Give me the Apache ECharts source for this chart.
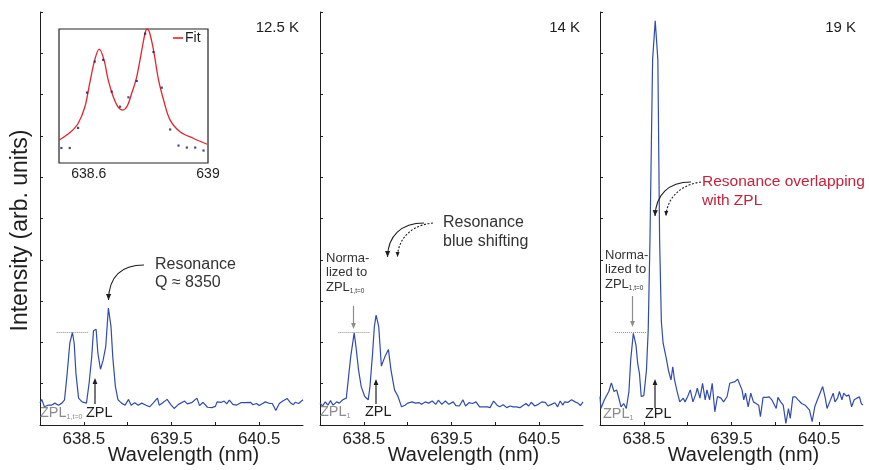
<!DOCTYPE html>
<html>
<head>
<meta charset="utf-8">
<script src="https://cdn.jsdelivr.net/npm/echarts@6/dist/echarts.min.js"></script>
<style>
  html, body { margin: 0; padding: 0; background: #fff; }
  #chart { width: 869px; height: 470px; }
</style>
</head>
<body>
<div id="chart"></div>
<script>
(function () {
    'use strict';

    // 12.5 K spectrum
    var wl1 = [638.00, 638.02, 638.05, 638.09, 638.13, 638.17, 638.21, 638.25, 638.28, 638.31, 638.34, 638.37, 638.39, 638.41, 638.44, 638.48,
        638.53, 638.56, 638.59, 638.61, 638.64, 638.66, 638.69, 638.72, 638.75, 638.78, 638.81, 638.83, 638.86, 638.89, 638.93, 638.97,
        639.01, 639.04, 639.08, 639.12, 639.16, 639.21, 639.25, 639.29, 639.34, 639.36, 639.40, 639.45, 639.49, 639.53, 639.58, 639.65,
        639.68, 639.73, 639.79, 639.82, 639.86, 639.91, 639.96, 640.00, 640.02, 640.07, 640.10, 640.13, 640.16, 640.20, 640.24, 640.29,
        640.34, 640.40, 640.43, 640.47, 640.50, 640.53, 640.57, 640.62, 640.65, 640.69, 640.73, 640.77, 640.82, 640.86, 640.89, 640.91,
        640.95, 641.00];
    var int1 = [0.53, 0.62, 0.44, 0.48, 0.48, 0.53, 0.48, 0.53, 0.61, 1.25, 1.98, 2.24, 1.98, 1.25, 0.65, 0.56,
        0.53, 1.01, 1.65, 2.28, 2.32, 1.74, 1.35, 1.57, 1.90, 2.83, 2.38, 1.65, 0.93, 0.61, 0.53, 0.48,
        0.62, 0.48, 0.54, 0.48, 0.53, 0.48, 0.44, 0.53, 0.65, 0.48, 0.54, 0.62, 0.50, 0.40, 0.50, 0.58,
        0.51, 0.54, 0.65, 0.47, 0.55, 0.43, 0.42, 0.45, 0.56, 0.55, 0.58, 0.51, 0.60, 0.50, 0.48, 0.54,
        0.54, 0.55, 0.49, 0.52, 0.47, 0.51, 0.56, 0.52, 0.52, 0.35, 0.52, 0.58, 0.64, 0.53, 0.49, 0.55,
        0.52, 0.61];

    // 14 K spectrum
    var wl2 = [638.00, 638.03, 638.06, 638.09, 638.12, 638.15, 638.19, 638.22, 638.26, 638.30, 638.35, 638.39, 638.41, 638.44, 638.47, 638.51,
        638.55, 638.57, 638.60, 638.62, 638.64, 638.67, 638.70, 638.74, 638.78, 638.81, 638.85, 638.89, 638.93, 638.97, 639.00, 639.05,
        639.09, 639.13, 639.16, 639.20, 639.24, 639.28, 639.32, 639.35, 639.39, 639.43, 639.47, 639.52, 639.55, 639.59, 639.63, 639.66,
        639.70, 639.74, 639.78, 639.82, 639.86, 639.91, 639.94, 639.98, 640.02, 640.05, 640.09, 640.13, 640.17, 640.20, 640.24, 640.28,
        640.32, 640.35, 640.38, 640.41, 640.45, 640.49, 640.53, 640.57, 640.60, 640.64, 640.68, 640.71, 640.74, 640.77, 640.79, 640.83,
        640.87, 640.91, 640.95, 640.97, 641.00];
    var int2 = [0.53, 0.46, 0.56, 0.48, 0.59, 0.48, 0.56, 0.53, 0.61, 0.65, 1.65, 2.23, 1.90, 1.33, 0.93, 0.69,
        0.61, 0.93, 1.74, 2.38, 2.66, 2.38, 1.43, 1.65, 1.83, 1.33, 0.85, 0.69, 0.44, 0.48, 0.53, 0.56,
        0.53, 0.54, 0.50, 0.56, 0.53, 0.58, 0.50, 0.60, 0.50, 0.58, 0.50, 0.56, 0.47, 0.46, 0.61, 0.46,
        0.54, 0.52, 0.56, 0.44, 0.44, 0.44, 0.42, 0.58, 0.48, 0.44, 0.49, 0.42, 0.46, 0.44, 0.44, 0.42,
        0.48, 0.52, 0.46, 0.55, 0.46, 0.50, 0.56, 0.55, 0.46, 0.50, 0.54, 0.44, 0.58, 0.48, 0.56, 0.55,
        0.61, 0.56, 0.52, 0.47, 0.56];

    // 19 K spectrum
    var wl3 = [638.00, 638.01, 638.05, 638.07, 638.10, 638.13, 638.16, 638.19, 638.21, 638.24, 638.27, 638.30, 638.33, 638.35, 638.38, 638.41,
        638.43, 638.45, 638.47, 638.50, 638.53, 638.55, 638.57, 638.60, 638.63, 638.66, 638.68, 638.70, 638.72, 638.76, 638.78, 638.81,
        638.83, 638.85, 638.88, 638.91, 638.95, 638.97, 639.00, 639.03, 639.06, 639.09, 639.11, 639.14, 639.17, 639.20, 639.22, 639.25,
        639.28, 639.31, 639.34, 639.38, 639.41, 639.45, 639.48, 639.54, 639.57, 639.59, 639.62, 639.64, 639.66, 639.69, 639.72, 639.75,
        639.78, 639.81, 639.83, 639.86, 639.90, 639.93, 639.96, 639.98, 640.01, 640.03, 640.06, 640.09, 640.12, 640.15, 640.17, 640.20,
        640.23, 640.26, 640.30, 640.34, 640.36, 640.39, 640.42, 640.45, 640.48, 640.51, 640.54, 640.57, 640.59, 640.62, 640.66, 640.68,
        640.71, 640.73, 640.76, 640.78, 640.81, 640.84, 640.87, 640.90, 640.93, 640.96, 640.98, 641.00];
    var int3 = [0.69, 0.40, 0.61, 0.57, 0.81, 1.02, 0.81, 0.85, 0.69, 0.44, 0.52, 0.40, 0.81, 1.57, 2.22, 1.94,
        1.49, 1.25, 0.69, 0.71, 1.33, 2.30, 4.48, 8.84, 9.79, 8.84, 4.48, 2.50, 1.98, 1.57, 1.33, 1.09,
        1.41, 1.09, 0.81, 0.56, 0.65, 0.56, 0.69, 0.85, 0.56, 0.73, 0.89, 0.65, 1.01, 0.61, 0.85, 0.61,
        1.01, 0.32, 0.69, 0.65, 0.56, 0.69, 1.01, 1.05, 1.11, 1.09, 0.85, 0.61, 0.77, 0.44, 0.77, 0.56,
        0.52, 0.48, 0.20, 0.67, 0.67, 0.68, 0.61, 0.61, 0.40, 0.67, 0.56, 0.48, 0.04, 0.40, 0.16, 0.68,
        0.68, 0.61, 0.52, 0.48, 0.52, 0.36, 0.08, 0.44, 0.61, 0.77, 0.93, 0.65, 0.40, 0.56, 0.77, 0.56,
        0.65, 0.81, 0.61, 0.77, 0.70, 0.73, 0.44, 0.61, 0.65, 0.68, 0.52, 0.48];

    // inset (12.5 K, zoom on the two peaks)
    var insetFitWl = [638.500, 638.536, 638.564, 638.587, 638.603, 638.620, 638.635, 638.651, 638.665, 638.682, 638.699, 638.714, 638.729,
        638.744, 638.761, 638.778, 638.789, 638.795, 638.803, 638.817, 638.834, 638.851, 638.873, 638.907, 638.952, 638.997];
    var insetFit = [0.170, 0.225, 0.295, 0.42, 0.595, 0.77, 0.85, 0.77, 0.62, 0.495, 0.415, 0.395, 0.425,
        0.52, 0.645, 0.845, 0.97, 1.0, 0.98, 0.845, 0.62, 0.47, 0.32, 0.232, 0.183, 0.14];
    var insetDotWl = [638.508, 638.536, 638.564, 638.594, 638.620, 638.648, 638.677, 638.705, 638.733, 638.761, 638.789, 638.817,
        638.845, 638.873, 638.901, 638.929, 638.957, 638.985];
    var insetDot = [0.112, 0.112, 0.262, 0.525, 0.757, 0.77, 0.532, 0.42, 0.49, 0.612, 0.965, 0.828,
        0.562, 0.25, 0.13, 0.115, 0.115, 0.093];

    var temps = ['12.5 K', '14 K', '19 K'];
    var xTicks = [638.5, 639, 639.5, 640, 640.5];
    var xLabels = [638.5, 639.5, 640.5];
    var insetXLabels = [638.6, 639];
    var insetYTicks = [0.11, 0.29, 0.47, 0.655, 0.83];
    // level of ZPL1 at t=0 (dotted reference) and its span per panel
    var normLevel = 2.245;
    var normSpans = [[638.19, 638.55], [638.21, 638.57], [638.17, 638.53]];

    var FONT = 'Liberation Sans, Arial, Helvetica, sans-serif';
    var BLUE = '#2f4cae';
    var INK = '#1e1e1e';
    var GREY = '#8c8c8c';

    var panelLeft = [40, 320, 600];
    var panelW = 263;

    function zip(a, b) {
        return a.map(function (v, i) { return [v, b[i]]; });
    }

    function text(str, x, y, size, color, align) {
        return {
            type: 'text', silent: true, z: 10,
            style: {
                text: str, x: x, y: y, fill: color,
                fontSize: size, fontFamily: FONT,
                align: align || 'left', textAlign: align || 'left',
                verticalAlign: 'middle', textVerticalAlign: 'middle'
            }
        };
    }

    function head(tipX, tipY, fromX, fromY, color, L, W) {
        var dx = tipX - fromX, dy = tipY - fromY;
        var len = Math.sqrt(dx * dx + dy * dy);
        var ux = dx / len, uy = dy / len;
        var bx = tipX - ux * L, by = tipY - uy * L;
        return {
            type: 'polygon', silent: true, z: 10,
            shape: { points: [[tipX, tipY], [bx - uy * W, by + ux * W], [bx + uy * W, by - ux * W]] },
            style: { fill: color }
        };
    }

    function curveArrow(p, color, dashed) {
        // p = [x1, y1, cpx1, cpy1, cpx2, cpy2, x2, y2]
        var els = [{
            type: 'bezierCurve', silent: true, z: 10,
            shape: { x1: p[0], y1: p[1], cpx1: p[2], cpy1: p[3], cpx2: p[4], cpy2: p[5], x2: p[6], y2: p[7] },
            style: { stroke: color, lineWidth: 1.1, fill: null, lineDash: dashed ? [2, 1.6] : null }
        }];
        els.push(head(p[6], p[7], p[4], p[5], color, dashed ? 5 : 6, dashed ? 2 : 2.6));
        return els;
    }

    function vArrow(x, y1, y2, color) {
        // y1 = tail, y2 = tip
        return [{
            type: 'line', silent: true, z: 10,
            shape: { x1: x, y1: y1, x2: x, y2: y2 + (y2 < y1 ? 4 : -4) },
            style: { stroke: color, lineWidth: 1.2 }
        }, head(x, y2, x, y1, color, 6, 2.4)];
    }

    // "ZPL" with a small subscript, grey
    function zplLabel(x, y, sub) {
        return {
            type: 'text', silent: true, z: 10,
            style: {
                text: '{n|ZPL}{s|' + sub + '}', x: x, y: y,
                align: 'left', textAlign: 'left', verticalAlign: 'middle', textVerticalAlign: 'middle',
                rich: {
                    n: { fontSize: 14.5, fontFamily: FONT, fill: GREY, color: GREY, lineHeight: 16 },
                    s: { fontSize: 7, fontFamily: FONT, fill: GREY, color: GREY, lineHeight: 16, padding: [8, 0, 0, 0] }
                }
            }
        };
    }

    function normText(x, y) {
        return {
            type: 'text', silent: true, z: 10,
            style: {
                text: '{t|Norma-}\n{t|lized to}\n{t|ZPL}{s|1,t=0}', x: x, y: y,
                align: 'left', textAlign: 'left', verticalAlign: 'top', textVerticalAlign: 'top',
                rich: {
                    t: { fontSize: 13, fontFamily: FONT, fill: '#333', color: '#333', lineHeight: 14.5 },
                    s: { fontSize: 6.5, fontFamily: FONT, fill: '#333', color: '#333', lineHeight: 14.5, padding: [7, 0, 0, 0] }
                }
            }
        };
    }

    var grids = [], xAxes = [], yAxes = [], series = [];

    [[wl1, int1], [wl2, int2], [wl3, int3]].forEach(function (d, i) {
        grids.push({ left: panelLeft[i], width: panelW, top: 12, bottom: 45, outerBoundsMode: 'none', containLabel: false });
        xAxes.push({
            type: 'value', gridIndex: i, min: 638, max: 641,
            axisLine: { show: true, onZero: false, lineStyle: { color: INK, width: 1 } },
            axisTick: { show: true, inside: true, length: 3, customValues: xTicks, lineStyle: { color: INK } },
            axisLabel: {
                customValues: xLabels, fontSize: 17, color: INK, margin: 6, fontFamily: FONT,
                formatter: function (v) { return v.toFixed(1); }
            },
            splitLine: { show: false },
            name: 'Wavelength (nm)', nameLocation: 'middle', nameGap: 20, nameMoveOverlap: false,
            nameTextStyle: { fontSize: 20, color: INK, fontFamily: FONT, padding: [0, 0, 0, 24] }
        });
        var ya = {
            type: 'value', gridIndex: i, min: 0, max: 10, interval: 1,
            axisLine: { show: true, lineStyle: { color: INK, width: 1 } },
            axisTick: { show: true, inside: true, length: 3, lineStyle: { color: INK } },
            axisLabel: { show: false },
            splitLine: { show: false }
        };
        if (i === 0) {
            ya.name = 'Intensity (arb. units)';
            ya.nameLocation = 'middle';
            ya.nameGap = 8;
            ya.nameRotate = 90;
            ya.nameMoveOverlap = false;
            ya.nameTextStyle = { fontSize: 23, color: INK, fontFamily: FONT, padding: [0, 24, 0, 0] };
        }
        yAxes.push(ya);
        series.push({
            type: 'line', xAxisIndex: i, yAxisIndex: i,
            data: zip(d[0], d[1]),
            showSymbol: false, silent: true,
            lineStyle: { color: BLUE, width: 1.2 },
            markLine: {
                silent: true, symbol: 'none', label: { show: false },
                lineStyle: { color: GREY, type: 'dotted', width: 1 },
                data: [[{ coord: [normSpans[i][0], normLevel] }, { coord: [normSpans[i][1], normLevel] }]]
            }
        });
    });

    // inset box
    grids.push({
        left: 59, top: 29, width: 149, height: 134, show: true, outerBoundsMode: 'none', containLabel: false,
        backgroundColor: '#fff', borderColor: '#222', borderWidth: 1.2, z: 5
    });
    xAxes.push({
        type: 'value', gridIndex: 3, min: 638.5, max: 639,
        axisLine: { show: false }, axisTick: { show: false },
        axisLabel: { customValues: insetXLabels, fontSize: 14, color: INK, margin: 4, fontFamily: FONT },
        splitLine: { show: false }
    });
    yAxes.push({
        type: 'value', gridIndex: 3, min: 0, max: 1,
        axisLine: { show: false }, axisLabel: { show: false }, splitLine: { show: false },
        axisTick: { show: true, inside: true, length: 2.5, customValues: insetYTicks, lineStyle: { color: INK } }
    });
    yAxes.push({
        type: 'value', gridIndex: 3, min: 0, max: 1, position: 'right',
        axisLine: { show: false }, axisLabel: { show: false }, splitLine: { show: false },
        axisTick: { show: true, inside: true, length: 2.5, customValues: insetYTicks, lineStyle: { color: INK } }
    });
    series.push({
        name: 'Fit', type: 'line', xAxisIndex: 3, yAxisIndex: 3,
        data: zip(insetFitWl, insetFit), smooth: 0.35, showSymbol: false, silent: true,
        lineStyle: { color: '#e5242b', width: 1.3 }, itemStyle: { color: '#e5242b' }, z: 6
    });
    series.push({
        name: 'Data', type: 'scatter', xAxisIndex: 3, yAxisIndex: 3,
        data: zip(insetDotWl, insetDot), symbol: 'rect', symbolSize: 2.2, silent: true,
        itemStyle: { color: '#1c1c6a' }, z: 7
    });

    var graphics = [];
    // temperature labels
    graphics.push(text(temps[0], 299, 28, 15, INK, 'right'));
    graphics.push(text(temps[1], 580, 28, 15, INK, 'right'));
    graphics.push(text(temps[2], 856, 28, 15, INK, 'right'));

    // panel 1 annotations
    graphics.push(text('Resonance', 155, 265, 16, '#333'));
    graphics.push(text('Q \u2248 8350', 155, 283, 16, '#333'));
    graphics = graphics.concat(curveArrow([144, 265, 122, 265, 109, 276, 108.5, 300], INK, false));
    graphics.push(zplLabel(40, 413, '1,t=0'));
    graphics.push(text('ZPL', 86, 413, 14.5, INK));
    graphics = graphics.concat(vArrow(95, 404, 378, INK));

    // panel 2 annotations
    graphics.push(text('Resonance', 443, 223, 16, '#333'));
    graphics.push(text('blue shifting', 443, 242, 16, '#333'));
    graphics = graphics.concat(curveArrow([424, 223, 401, 223, 388, 236, 387.5, 257], INK, false));
    graphics = graphics.concat(curveArrow([433, 223, 412, 225, 398, 238, 397.5, 257], INK, true));
    graphics.push(normText(326, 251));
    graphics = graphics.concat(vArrow(353.5, 306, 329, GREY));
    graphics.push(zplLabel(320, 412, '1'));
    graphics.push(text('ZPL', 365, 412, 14.5, INK));
    graphics = graphics.concat(vArrow(376, 404, 379, INK));

    // panel 3 annotations
    graphics.push(text('Resonance overlapping', 702, 182, 15.5, '#c8213a'));
    graphics.push(text('with ZPL', 702, 201, 15.5, '#c8213a'));
    graphics = graphics.concat(curveArrow([691, 182, 668, 182, 656, 195, 655, 216], INK, false));
    graphics = graphics.concat(curveArrow([701, 182, 680, 185, 667, 198, 666, 216], INK, true));
    graphics.push(normText(605, 248));
    graphics = graphics.concat(vArrow(632.5, 296, 327, GREY));
    graphics.push(zplLabel(603, 414, '1'));
    graphics.push(text('ZPL', 645, 414, 14.5, INK));
    graphics = graphics.concat(vArrow(655, 408, 379, INK));

    var chart = echarts.init(document.getElementById('chart'), null, { renderer: 'canvas' });
    chart.setOption({
        animation: false,
        backgroundColor: '#fff',
        textStyle: { fontFamily: FONT },
        legend: {
            data: ['Fit'], left: 173, top: 31, padding: 0, itemWidth: 10, itemHeight: 1.6,
            icon: 'rect', selectedMode: false, z: 8,
            textStyle: { fontSize: 14, color: INK, fontFamily: FONT, padding: [0, 0, 0, -3] }
        },
        grid: grids,
        xAxis: xAxes,
        yAxis: yAxes,
        series: series,
        graphic: graphics
    });
})();
</script>
</body>
</html>
